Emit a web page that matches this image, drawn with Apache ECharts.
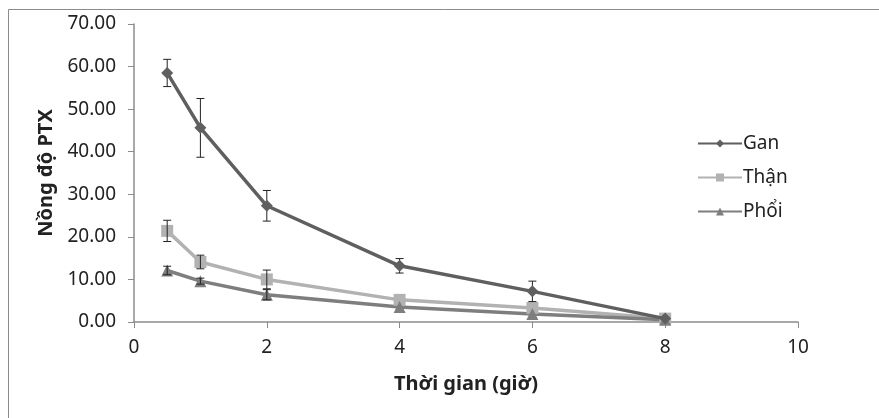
<!DOCTYPE html>
<html>
<head>
<meta charset="utf-8">
<script src="https://cdn.jsdelivr.net/npm/echarts@6/dist/echarts.min.js"></script>
<style>
html,body{margin:0;padding:0;background:#fff;}
#chart{width:879px;height:418px;}
</style>
</head>
<body>
<div id="chart"></div>
<script>
var hours = [0.5, 1, 2, 4, 6, 8];
var gan = [58.5, 45.6, 27.3, 13.2, 7.2, 0.8];
var ganErr = [3.2, 6.9, 3.6, 1.7, 2.4, 0];
var than = [21.4, 14.1, 10.0, 5.2, 3.3, 0.8];
var thanErr = [2.5, 1.6, 2.2, 0, 0, 0];
var phoi = [12.1, 9.6, 6.4, 3.5, 1.9, 0.5];
var phoiErr = [1.0, 0.7, 1.2, 0, 0, 0];
var font = "'Noto Sans', sans-serif";

function pairs(ys) {
    return hours.map(function (h, i) { return [h, ys[i]]; });
}
function errData(ys, es) {
    return hours.map(function (h, i) { return [h, ys[i] - es[i], ys[i] + es[i]]; });
}
function errSeries(ys, es) {
    return {
        type: "custom",
        silent: true,
        z: 3,
        data: errData(ys, es),
        renderItem: function (params, api) {
            var lo = api.coord([api.value(0), api.value(1)]);
            var hi = api.coord([api.value(0), api.value(2)]);
            if (Math.abs(hi[1] - lo[1]) < 1) return null;
            var w = 4;
            var st = { stroke: "#222", lineWidth: 1 };
            return {
                type: "group",
                children: [
                    { type: "line", shape: { x1: lo[0], y1: lo[1], x2: hi[0], y2: hi[1] }, style: st },
                    { type: "line", shape: { x1: lo[0] - w, y1: lo[1], x2: lo[0] + w, y2: lo[1] }, style: st },
                    { type: "line", shape: { x1: hi[0] - w, y1: hi[1], x2: hi[0] + w, y2: hi[1] }, style: st }
                ]
            };
        }
    };
}

var dom = document.getElementById("chart"), myChart = echarts.init(dom);
var option = {
    animation: false,
    backgroundColor: "#fff",
    textStyle: { fontFamily: font },
    graphic: [{
        type: "rect",
        shape: { x: 8.5, y: 9.5, width: 900, height: 450 },
        style: { fill: null, stroke: "#8c8c8c", lineWidth: 1 },
        silent: true
    }],
    grid: { left: 134, right: 81, top: 24, bottom: 96 },
    legend: {
        orient: "vertical",
        left: 692,
        top: 129,
        itemWidth: 44,
        itemHeight: 10,
        itemGap: 15,
        textStyle: { fontFamily: font, fontSize: 19, color: "#222", padding: [0, 0, 0, -4] },
        data: ["Gan", "Thận", "Phổi"]
    },
    xAxis: {
        type: "value",
        min: 0, max: 10, interval: 2,
        name: "Thời gian (giờ)",
        nameLocation: "middle",
        nameGap: 52,
        nameTextStyle: { fontFamily: font, fontSize: 20, fontWeight: "bold", color: "#222" },
        axisLine: { onZero: false, lineStyle: { color: "#8c8c8c", width: 1.5 } },
        axisTick: { show: true, length: 6, lineStyle: { color: "#8c8c8c" } },
        axisLabel: { fontFamily: font, fontSize: 19, color: "#222", margin: 16 },
        splitLine: { show: false }
    },
    yAxis: {
        type: "value",
        min: 0, max: 70, interval: 10,
        name: "Nồng độ PTX",
        nameLocation: "middle",
        nameGap: 78,
        nameRotate: 90,
        nameTextStyle: { fontFamily: font, fontSize: 20, fontWeight: "bold", color: "#222" },
        axisLine: { show: true, lineStyle: { color: "#8c8c8c", width: 1.5 } },
        axisTick: { show: true, length: 6, lineStyle: { color: "#8c8c8c" } },
        axisLabel: { fontFamily: font, fontSize: 19, color: "#222", margin: 18,
            formatter: function (v) { return v.toFixed(2); } },
        splitLine: { show: false }
    },
    series: [
        { name: "Gan", type: "line", data: pairs(gan), symbol: "diamond", symbolSize: 12,
          color: "#5f5f5f", lineStyle: { width: 3.5 }, z: 4 },
        { name: "Thận", type: "line", data: pairs(than), symbol: "rect", symbolSize: 12,
          color: "#b2b2b2", lineStyle: { width: 3.5 }, z: 2 },
        { name: "Phổi", type: "line", data: pairs(phoi), symbol: "triangle", symbolSize: 12,
          color: "#7e7e7e", lineStyle: { width: 3.5 }, z: 2 },
        errSeries(gan, ganErr),
        errSeries(than, thanErr),
        errSeries(phoi, phoiErr)
    ]
};
myChart.setOption(option, true);
</script>
</body>
</html>
